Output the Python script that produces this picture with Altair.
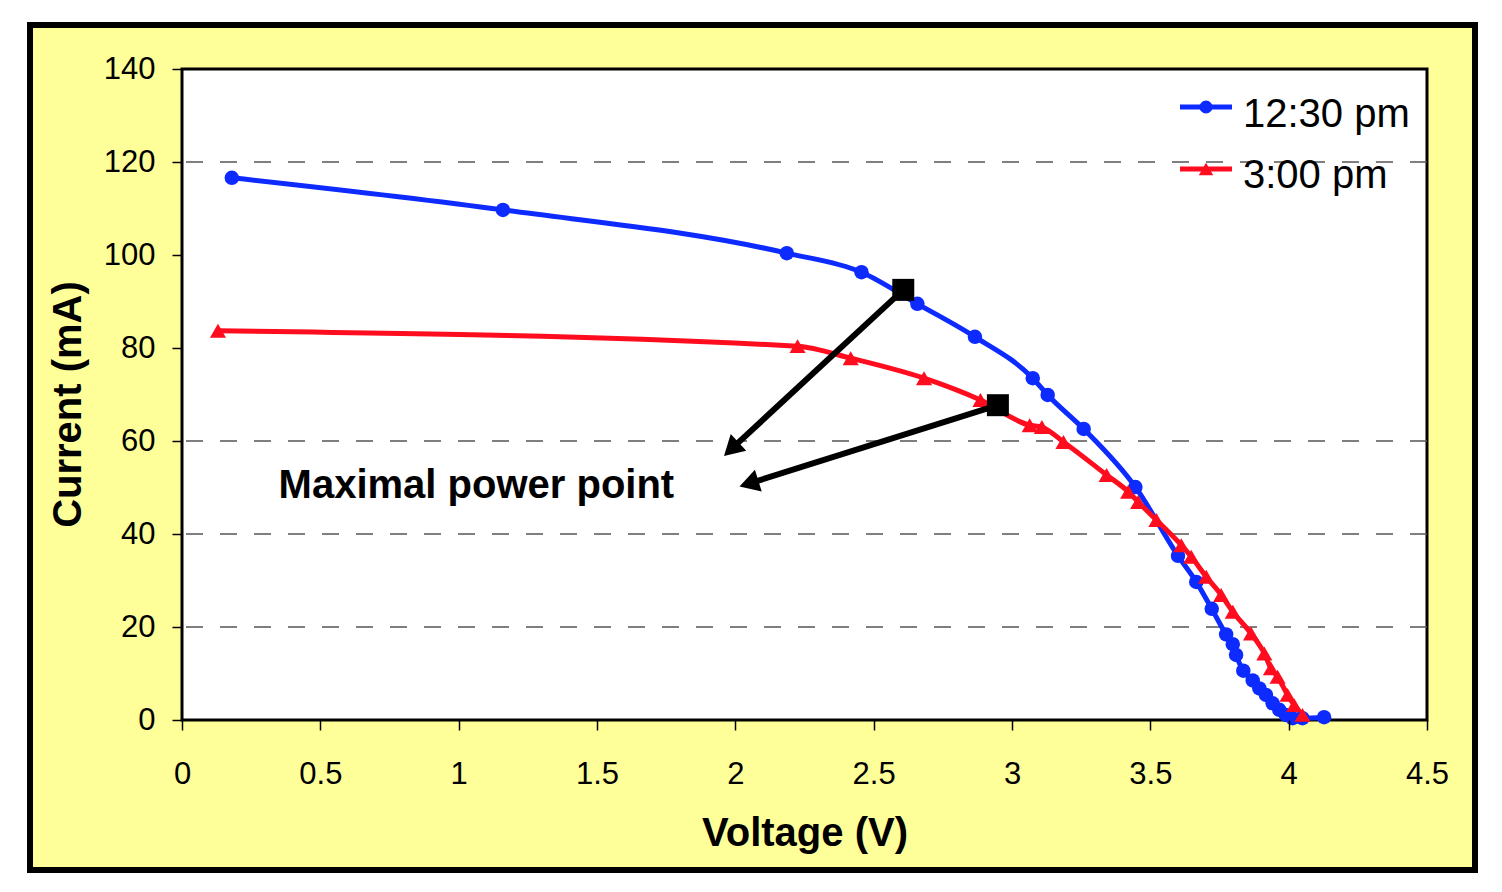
import math
import altair as alt
import pandas as pd

# ---------------- data ----------------
series_names = ["12:30 pm", "3:00 pm"]
series_colors = ["#0D2BFF", "#FF0D1E"]

blue_v = [0.180, 1.160, 2.186, 2.456, 2.658, 2.866, 3.075, 3.129, 3.259, 3.446,
          3.600, 3.666, 3.722, 3.774, 3.798, 3.810, 3.836, 3.870, 3.894, 3.918,
          3.942, 3.966, 3.990, 4.014, 4.050, 4.128]
blue_i = [116.6, 109.7, 100.4, 96.3, 89.5, 82.4, 73.5, 69.9, 62.6, 50.1,
          35.3, 29.7, 23.9, 18.4, 16.3, 14.0, 10.6, 8.5, 6.8, 5.4,
          3.6, 2.2, 1.1, 0.4, 0.4, 0.6]

red_v = [0.130, 2.225, 2.417, 2.682, 2.886, 3.064, 3.108, 3.186, 3.342, 3.420,
         3.456, 3.522, 3.612, 3.648, 3.702, 3.756, 3.798, 3.864, 3.912, 3.936,
         3.960, 3.996, 4.020, 4.050]
red_i = [83.7, 80.4, 77.8, 73.5, 68.8, 63.4, 63.0, 59.8, 52.7, 49.1,
         46.9, 43.0, 37.6, 35.1, 30.8, 26.9, 23.3, 18.6, 14.3, 11.1,
         9.3, 5.4, 3.2, 1.1]

# maximal power points
mpp_v = [2.607, 2.949]
mpp_i = [92.5, 67.7]
# arrow tips (annotation)
tip_v = [1.959, 2.015]
tip_i = [56.8, 50.2]
annotation_text = "Maximal power point"
annotation_v = 1.064
annotation_i = 47.7

x_ticks = [0, 0.5, 1, 1.5, 2, 2.5, 3, 3.5, 4, 4.5]
y_ticks = [0, 20, 40, 60, 80, 100, 120, 140]
grid_levels = [20, 40, 60, 120]

# ---------------- layout ----------------
W, H = 1245, 651
FONT = "Liberation Sans"
X_MAX, Y_MAX = 4.5, 140

xs = alt.Scale(domain=[0, X_MAX], nice=False, zero=False)
ys = alt.Scale(domain=[0, Y_MAX], nice=False)

df = pd.DataFrame({
    "V": blue_v + red_v,
    "I": blue_i + red_i,
    "series": [series_names[0]] * len(blue_v) + [series_names[1]] * len(red_v),
})

one = pd.DataFrame({"a": [0]})

frame = alt.Chart(one).mark_rect(fill="#FFFF99", stroke="black", strokeWidth=6).encode(
    x=alt.value(-152), x2=alt.value(W + 48), y=alt.value(-44), y2=alt.value(H + 150)
)
plot_bg = alt.Chart(one).mark_rect(fill="white", stroke="black", strokeWidth=3).encode(
    x=alt.value(0), x2=alt.value(W), y=alt.value(0), y2=alt.value(H)
)
grid = alt.Chart(pd.DataFrame({"g": grid_levels})).mark_rule(
    color="#555555", strokeWidth=1.5, strokeDash=[17, 17]
).encode(y=alt.Y("g:Q", scale=ys))

color = alt.Color("series:N", scale=alt.Scale(domain=series_names, range=series_colors), legend=None)

base = alt.Chart(df).encode(
    x=alt.X("V:Q", scale=xs, axis=alt.Axis(
        values=x_ticks, format=".1~f", title="Voltage (V)", grid=False, domain=False,
        tickColor="black", tickWidth=1.5, tickSize=10, labelFlush=False,
        labelFont=FONT, labelFontSize=31, labelColor="black", labelPadding=53,
        labelBaseline="alphabetic",
        titleFont=FONT, titleFontSize=40, titleFontWeight="bold", titleColor="black",
        titleY=125, titleBaseline="alphabetic", zindex=1)),
    y=alt.Y("I:Q", scale=ys, axis=alt.Axis(
        values=y_ticks, title="Current (mA)", grid=False, domain=False,
        tickColor="black", tickWidth=1.5, tickSize=10, labelFlush=False,
        labelFont=FONT, labelFontSize=31, labelColor="black", labelPadding=17,
        titleFont=FONT, titleFontSize=40, titleFontWeight="bold", titleColor="black",
        titleX=-102, titleY=335, titleBaseline="alphabetic", titleAngle=-90, zindex=1)),
    color=color,
    detail="series:N",
)

lines = base.mark_line(strokeWidth=5, interpolate="monotone")
blue_pts = alt.Chart(df[df.series == series_names[0]]).mark_point(
    shape="circle", filled=True, size=210, opacity=1, color=series_colors[0]
).encode(x=alt.X("V:Q", scale=xs), y=alt.Y("I:Q", scale=ys))
red_pts = alt.Chart(df[df.series == series_names[1]]).mark_point(
    shape="triangle-up", filled=True, size=260, opacity=1, color=series_colors[1]
).encode(x=alt.X("V:Q", scale=xs), y=alt.Y("I:Q", scale=ys))

# arrows
px_v = W / X_MAX
px_i = H / Y_MAX
HEAD = 520
h = math.sqrt(HEAD) / 2 * math.sqrt(3) / 2
rows = []
for v0, i0, v1, i1 in zip(mpp_v, mpp_i, tip_v, tip_i):
    dx = (v1 - v0) * px_v
    dy = -(i1 - i0) * px_i
    L = math.hypot(dx, dy)
    ux, uy = dx / L, dy / L
    ang = math.degrees(math.atan2(ux, -uy)) % 360
    cv = v1 - ux * h / px_v
    ci = i1 + uy * h / px_i
    rows.append({"v0": v0, "i0": i0, "cv": cv, "ci": ci, "ang": ang})
arr = pd.DataFrame(rows)

arrow_lines = alt.Chart(arr).mark_rule(color="black", strokeWidth=6).encode(
    x=alt.X("v0:Q", scale=xs), y=alt.Y("i0:Q", scale=ys),
    x2="cv:Q", y2="ci:Q",
)
arrow_heads = alt.Chart(arr).mark_point(
    shape="triangle-up", filled=True, size=HEAD, color="black", opacity=1
).encode(
    x=alt.X("cv:Q", scale=xs), y=alt.Y("ci:Q", scale=ys),
    angle=alt.Angle("ang:Q", scale=None),
)
squares = alt.Chart(pd.DataFrame({"v": mpp_v, "i": mpp_i})).mark_point(
    shape="square", filled=True, size=484, color="black", opacity=1
).encode(x=alt.X("v:Q", scale=xs), y=alt.Y("i:Q", scale=ys))

label = alt.Chart(pd.DataFrame({"v": [annotation_v], "i": [annotation_i], "t": [annotation_text]})).mark_text(
    font=FONT, fontSize=40, fontWeight="bold", color="black", align="center", baseline="alphabetic"
).encode(x=alt.X("v:Q", scale=xs), y=alt.Y("i:Q", scale=ys), text="t:N")

# manual legend (inside the plot, top right)
leg_layers = []
leg_y = [38, 100]
leg_text_y = [58, 119]
leg_shapes = ["circle", "triangle-up"]
leg_sizes = [170, 210]
for k in range(2):
    leg_layers.append(alt.Chart(one).mark_rule(color=series_colors[k], strokeWidth=5).encode(
        x=alt.value(998), x2=alt.value(1050), y=alt.value(leg_y[k])))
    leg_layers.append(alt.Chart(one).mark_point(
        shape=leg_shapes[k], filled=True, size=leg_sizes[k], color=series_colors[k], opacity=1
    ).encode(x=alt.value(1024), y=alt.value(leg_y[k])))
    leg_layers.append(alt.Chart(pd.DataFrame({"t": [series_names[k]]})).mark_text(
        font=FONT, fontSize=40, color="black", align="left", baseline="alphabetic"
    ).encode(x=alt.value(1061), y=alt.value(leg_text_y[k]), text="t:N"))

chart = alt.layer(
    frame, plot_bg, grid, lines, blue_pts, red_pts,
    arrow_lines, arrow_heads, squares, label, *leg_layers
).properties(
    width=W, height=H,
    padding={"left": 19, "top": 14, "right": 10, "bottom": 10},
).configure(background="white").configure_view(stroke=None)

chart.save("out.html", embed_options={"renderer": "svg", "actions": False})
